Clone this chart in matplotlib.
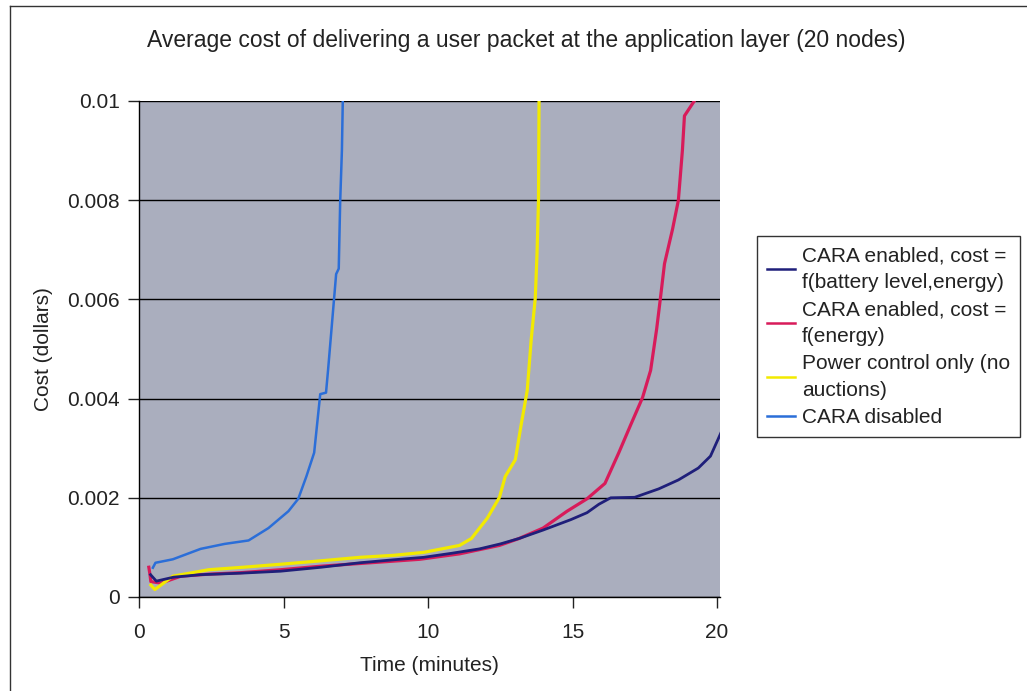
import matplotlib
matplotlib.use('Agg')
import matplotlib.pyplot as plt
from matplotlib.lines import Line2D

plt.rcParams['font.family'] = ['Liberation Sans', 'DejaVu Sans']

# CARA enabled, cost = f(battery level, energy)
navy_t = [0.40, 0.6, 1.2, 2.13, 3.5, 4.89, 6.3, 7.64, 8.8, 9.85, 10.8, 11.78, 12.5, 13.15, 13.98,
          14.94, 15.5, 15.91, 16.32, 17.15, 17.98, 18.66, 19.35, 19.77, 20.04, 20.2]
navy_v = [0.00045, 0.00032, 0.00040, 0.00045, 0.00048, 0.00052, 0.00060, 0.00069, 0.00075, 0.00080,
          0.00088, 0.00097, 0.00107, 0.00118, 0.00135, 0.00156, 0.00170, 0.00187, 0.00200, 0.00201,
          0.00218, 0.00236, 0.00260, 0.00284, 0.00319, 0.00340]

# CARA enabled, cost = f(energy)
red_t = [0.34, 0.38, 0.41, 0.76, 1.45, 2.4, 3.51, 4.9, 6.27, 8.0, 9.71, 11.09, 12.47, 13.15, 13.98,
         14.81, 15.5, 16.12, 16.6, 17.01, 17.42, 17.7, 17.91, 18.04, 18.18, 18.46, 18.66, 18.8,
         18.87, 19.21]
red_v = [0.00060, 0.00045, 0.00031, 0.00028, 0.00042, 0.00046, 0.00049, 0.00055, 0.00062, 0.00069,
         0.00076, 0.00087, 0.00104, 0.00118, 0.00139, 0.00173, 0.00198, 0.00229, 0.00291, 0.00347,
         0.00402, 0.00457, 0.00541, 0.00603, 0.00672, 0.00742, 0.00800, 0.00901, 0.00970, 0.01000]

# Power control only (no auctions)
yel_t = [0.41, 0.55, 1.17, 2.41, 3.6, 4.89, 6.3, 7.64, 8.8, 9.85, 11.09, 11.5, 12.05, 12.47, 12.67,
         13.02, 13.22, 13.43, 13.57, 13.71, 13.77, 13.82, 13.84]
yel_v = [0.00024, 0.00015, 0.00042, 0.00055, 0.00060, 0.00066, 0.00073, 0.00080, 0.00084, 0.00090,
         0.00104, 0.00118, 0.00159, 0.00201, 0.00243, 0.00277, 0.00347, 0.00416, 0.00520, 0.00603,
         0.00693, 0.00797, 0.01000]

# CARA disabled
blue_t = [0.48, 0.57, 1.17, 2.13, 2.96, 3.79, 4.48, 5.17, 5.51, 5.79, 6.06, 6.27, 6.47, 6.54,
          6.68, 6.82, 6.91, 6.96, 7.02, 7.05]
blue_v = [0.00059, 0.00069, 0.00076, 0.00097, 0.00107, 0.00114, 0.00139, 0.00173, 0.00198, 0.00243,
          0.00291, 0.00409, 0.00412, 0.00457, 0.00554, 0.00651, 0.00662, 0.00797, 0.00901, 0.01000]

labels = ['CARA enabled, cost =\nf(battery level,energy)', 'CARA enabled, cost =\nf(energy)',
          'Power control only (no\nauctions)', 'CARA disabled']
colors = ['#1f1f7a', '#d81b5a', '#f2ea00', '#2b6ed8']

yticks = [0, 0.002, 0.004, 0.006, 0.008, 0.01]
ytick_labels = ['0', '0.002', '0.004', '0.006', '0.008', '0.01']
xticks = [0, 5, 10, 15, 20]

fig = plt.figure(figsize=(10.27, 6.91), dpi=100)
ax = fig.add_axes([139 / 1027, 94 / 691, 581 / 1027, 496 / 691])
ax.set_facecolor('#aaaebe')

ax.plot(red_t, red_v, color=colors[1], lw=2.3, zorder=3)
ax.plot(yel_t, yel_v, color=colors[2], lw=2.3, zorder=4)
ax.plot(navy_t, navy_v, color=colors[0], lw=2.0, zorder=5)
ax.plot(blue_t, blue_v, color=colors[3], lw=1.8, zorder=6)

ax.set_xlim(0, 20.1)
ax.set_ylim(0, 0.01)
ax.set_yticks(yticks)
ax.set_yticklabels(ytick_labels)
ax.set_xticks(xticks)
ax.yaxis.grid(True, color='black', lw=1)
ax.set_axisbelow(True)
for s in ['top', 'right']:
    ax.spines[s].set_visible(False)
for s in ['left', 'bottom']:
    ax.spines[s].set_color('black')
    ax.spines[s].set_linewidth(1)
ax.tick_params(axis='both', labelsize=15, colors='#222222', length=8, width=1, direction='out', pad=6)
ax.tick_params(axis='x', pad=11)

ax.set_xlabel('Time (minutes)', fontsize=15, color='#222222', labelpad=10)
ax.set_ylabel('Cost (dollars)', fontsize=15, color='#222222', labelpad=10)
fig.text(526 / 1027, 1 - 40 / 691, 'Average cost of delivering a user packet at the application layer (20 nodes)',
         fontsize=16.5, color='#222222', ha='center', va='center')

handles = [Line2D([0], [0], color=c, lw=1.8) for c in colors]
leg = fig.legend(handles, labels, loc='upper left', bbox_to_anchor=(757 / 1027, 1 - 236 / 691),
                 fontsize=15, frameon=True, fancybox=False, handlelength=1.3, handletextpad=0.35,
                 borderpad=0.5, labelspacing=0.4, borderaxespad=0)
leg.get_frame().set_edgecolor('black')
leg.get_frame().set_linewidth(1)
for t in leg.get_texts():
    t.set_color('#222222')
    t.set_linespacing(1.5)

# outer chart border (cut off on the right and bottom in the scan)
fig.add_artist(Line2D([10 / 1027, 10 / 1027], [0, 1 - 6 / 691], color='#333333', lw=1))
fig.add_artist(Line2D([10 / 1027, 1], [1 - 6 / 691, 1 - 6 / 691], color='#333333', lw=1))

fig.savefig('out.png', dpi=100)
